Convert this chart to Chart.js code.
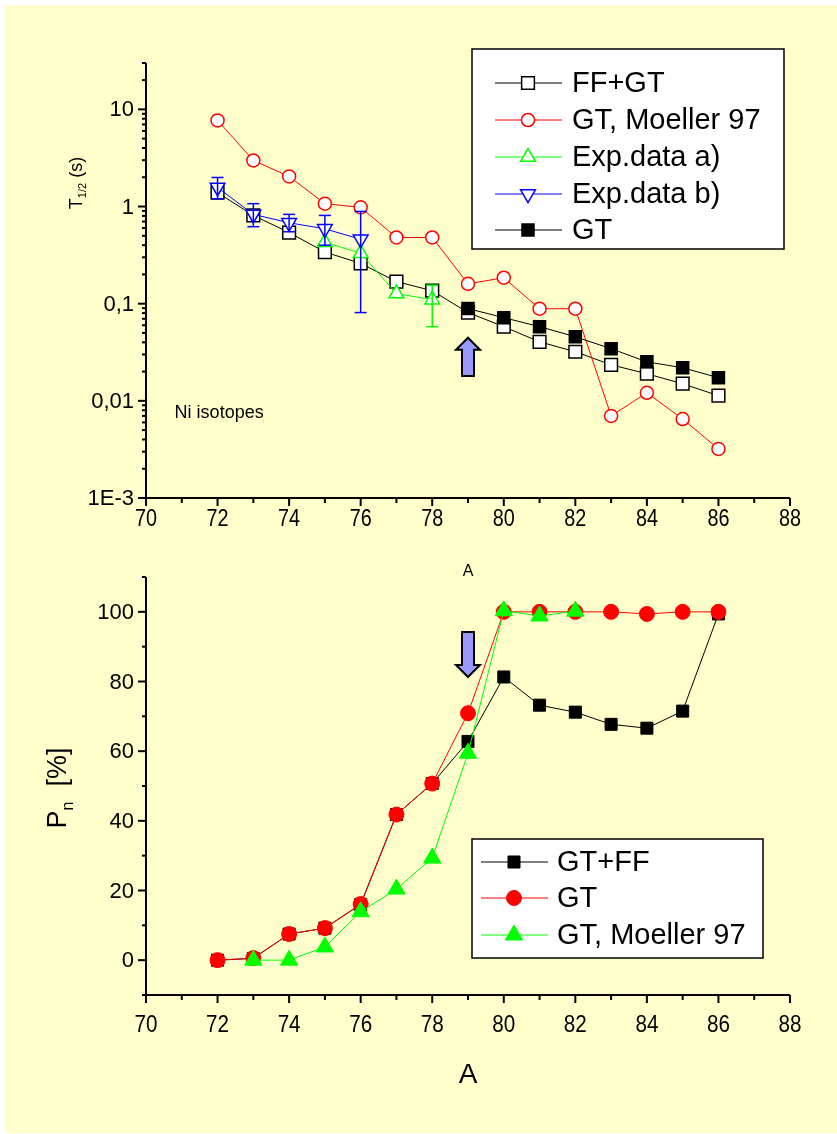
<!DOCTYPE html>
<html><head><meta charset="utf-8">
<script src="https://cdn.jsdelivr.net/npm/chart.js@4.4.1/dist/chart.umd.min.js"></script>
<style>
html,body{margin:0;padding:0;background:#fff;}
#bg{position:absolute;left:5px;top:5px;width:832px;height:1128px;background:#FFFFCC;}
#c1{position:absolute;left:0;top:0;}
#c2{position:absolute;left:0;top:560px;}
</style></head><body>
<div id="bg"></div>
<canvas id="c1" width="837" height="580"></canvas>
<canvas id="c2" width="837" height="574"></canvas>
<script>
// ---------- DATA ----------
const A_ALL = [72,73,74,75,76,77,78,79,80,81,82,83,84,85,86];
// Top panel: half-lives T1/2 (s)
const T_FFGT      = [1.39,0.81,0.54,0.34,0.26,0.169,0.136,0.081,0.058,0.0405,0.032,0.0235,0.019,0.015,0.0113];
const T_MOELLER   = [7.7,2.98,2.04,1.07,0.98,0.48,0.48,0.16,0.185,0.0887,0.0887,0.0070,0.0121,0.0065,0.0032];
const A_EXPA      = [75,76,77,78];
const T_EXPA      = [0.43,0.33,0.127,0.11];
const T_EXPA_LOW  = [null,null,null,0.058];
const T_EXPA_HIGH = [null,null,null,0.155];
const A_EXPB      = [72,73,74,75,76];
const T_EXPB      = [1.57,0.83,0.68,0.59,0.46];
const T_EXPB_LOW  = [1.2,0.62,0.55,0.40,0.081];
const T_EXPB_HIGH = [1.99,1.07,0.83,0.81,0.89];
const A_GT        = [79,80,81,82,83,84,85,86];
const T_GT        = [0.089,0.0718,0.058,0.0457,0.0344,0.0252,0.0219,0.0173];
// Bottom panel: Pn (%)
const PN_GTFF     = [0,0.5,7.5,9.2,16,41.8,50.7,62.8,81.3,73.2,71.2,67.7,66.6,71.5,99.4];
const PN_GT       = [0,0.6,7.5,9.2,16.1,41.8,50.7,70.9,100,100,100,100,99.4,100,100];
const A_PNMOELLER = [73,74,75,76,77,78,79,80,81,82];
const PN_MOELLER  = [0,0,3.8,13.9,20.4,29.3,59.4,100.3,98.8,100.2];
// Ticks
const X_TICKS = [70,72,74,76,78,80,82,84,86,88];
const X_MINOR = [71,73,75,77,79,81,83,85,87];
const LOG_TICKS = [0.001,0.01,0.1,1,10];
const LOG_TICK_LABELS = ['1E-3','0,01','0,1','1','10'];
const PN_TICKS = [0,20,40,60,80,100];
const PN_MINOR = [-10,10,30,50,70,90,110];
// Annotations (data coordinates)
const ARROW_TOP = {a:79, from:0.018, to:0.0446};
const ARROW_BOT = {a:79, from:94.2, to:81.3};
const NOTE_TOP = {a:70.8, v:0.0075, text:'Ni isotopes'};

const FONT = '"Liberation Sans", Arial, sans-serif';
const pts = (xs, ys) => xs.map((x,i)=>({x:x, y:ys[i]}));

function line(ctx,x1,y1,x2,y2){ctx.beginPath();ctx.moveTo(x1,y1);ctx.lineTo(x2,y2);ctx.stroke();}

function drawAxes(chart, o){
  const ctx=chart.ctx, xs=chart.scales.x, ys=chart.scales.y, ca=chart.chartArea;
  ctx.save();
  ctx.strokeStyle='#000'; ctx.lineWidth=2; ctx.fillStyle='#000';
  line(ctx, ca.left, ca.top, ca.left, ca.bottom);
  line(ctx, ca.left-1, ca.bottom, ca.right, ca.bottom);
  X_TICKS.forEach(v=>{const p=xs.getPixelForValue(v); line(ctx,p,ca.bottom,p,ca.bottom+8);});
  X_MINOR.forEach(v=>{const p=xs.getPixelForValue(v); line(ctx,p,ca.bottom,p,ca.bottom+5);});
  o.yMajor.forEach(v=>{const p=ys.getPixelForValue(v); line(ctx,ca.left-8,p,ca.left,p);});
  o.yMinor.forEach(v=>{const p=ys.getPixelForValue(v); line(ctx,ca.left-4,p,ca.left,p);});
  // x tick labels (slightly condensed, as in the original)
  ctx.font = o.xFont+'px '+FONT; ctx.textAlign='center'; ctx.textBaseline='middle';
  X_TICKS.forEach(v=>{
    const px = xs.getPixelForValue(v);
    ctx.save(); ctx.translate(px, ca.bottom+o.xLabOff); ctx.scale(0.86,1);
    ctx.fillText(String(v), 0, 0); ctx.restore();
  });
  ctx.font = o.yFont+'px '+FONT; ctx.textAlign='right';
  o.yMajor.forEach((v,i)=>{ctx.fillText(o.yLabels[i], ca.left-12, ys.getPixelForValue(v)+1);});
  // x title
  ctx.font = o.xTitleFont+'px '+FONT; ctx.textAlign='center';
  ctx.fillText('A', (xs.getPixelForValue(70)+xs.getPixelForValue(88))/2, ca.bottom+o.xTitleOff);
  ctx.restore();
}

function drawArrow(ctx, x, yTail, yTip){
  const dir = yTip < yTail ? -1 : 1; // -1 = up
  const sw=6, hw=12, hl=12;
  const yNeck = yTip - dir*hl;
  ctx.save();
  ctx.beginPath();
  ctx.moveTo(x, yTip);
  ctx.lineTo(x+hw, yNeck);
  ctx.lineTo(x+sw, yNeck);
  ctx.lineTo(x+sw, yTail);
  ctx.lineTo(x-sw, yTail);
  ctx.lineTo(x-sw, yNeck);
  ctx.lineTo(x-hw, yNeck);
  ctx.closePath();
  ctx.fillStyle='#9999FF'; ctx.fill();
  ctx.strokeStyle='#000'; ctx.lineWidth=2; ctx.lineJoin='miter'; ctx.stroke();
  ctx.restore();
}

function drawLegend(chart, L){
  const ctx=chart.ctx;
  ctx.save();
  ctx.fillStyle='#fff'; ctx.fillRect(L.x, L.y, L.w, L.h);
  ctx.strokeStyle='#000'; ctx.lineWidth=1.5; ctx.strokeRect(L.x, L.y, L.w, L.h);
  L.order.forEach((di, row)=>{
    const ds = chart.data.datasets[di];
    const y = L.rows[row];
    ctx.strokeStyle = ds.borderColor; ctx.lineWidth = 1;
    line(ctx, L.lx1, y, L.lx2, y);
    ctx.fillStyle = ds.pointBackgroundColor; ctx.strokeStyle = ds.borderColor;
    ctx.lineWidth = ds.pointBorderWidth;
    Chart.helpers.drawPoint(ctx, {pointStyle: ds.pointStyle, radius: ds.pointRadius, rotation: ds.pointRotation||0, borderWidth: ds.pointBorderWidth}, L.mx, y);
    ctx.fillStyle='#000'; ctx.font = L.font+'px '+FONT; ctx.textAlign='left'; ctx.textBaseline='middle';
    ctx.fillText(ds.label, L.tx, y+1);
  });
  ctx.restore();
}

const errorBarPlugin = {
  id:'errbars',
  afterDatasetsDraw(chart){
    const ctx=chart.ctx, xs=chart.scales.x, ys=chart.scales.y;
    chart.data.datasets.forEach(ds=>{
      if(!ds.errLow) return;
      ctx.save(); ctx.strokeStyle=ds.borderColor; ctx.lineWidth=1.5;
      ds.data.forEach((p,i)=>{
        const lo=ds.errLow[i], hi=ds.errHigh[i];
        if(lo==null) return;
        const x=xs.getPixelForValue(p.x), y1=ys.getPixelForValue(lo), y2=ys.getPixelForValue(hi);
        line(ctx,x,y1,x,y2); line(ctx,x-6,y1,x+6,y1); line(ctx,x-6,y2,x+6,y2);
      });
      ctx.restore();
    });
  }
};

const baseOpts = (padding, yScale) => ({
  responsive:false, animation:false, events:[],
  layout:{padding:padding},
  plugins:{legend:{display:false}, tooltip:{enabled:false}},
  scales:{
    x:{type:'linear', min:70, max:88, display:false},
    y:yScale
  }
});

// ---------- TOP CHART ----------
const topMinor = [];
[0.001,0.01,0.1,1,10].forEach(d=>{for(let m=2;m<=9;m++){ if(d*m<=30.0001) topMinor.push(d*m);} });

new Chart(document.getElementById('c1'), {
  type:'line',
  data:{datasets:[
    {label:'FF+GT', data:pts(A_ALL,T_FFGT), borderColor:'#000', borderWidth:1, pointStyle:'rect', pointRadius:9, pointBorderWidth:1.5, pointBackgroundColor:'#fff', pointBorderColor:'#000', order:5},
    {label:'GT, Moeller 97', data:pts(A_ALL,T_MOELLER), borderColor:'#FF0000', borderWidth:1, pointStyle:'circle', pointRadius:6.5, pointBorderWidth:1.5, pointBackgroundColor:'#fff', pointBorderColor:'#FF0000', order:4},
    {label:'Exp.data a)', data:pts(A_EXPA,T_EXPA), errLow:T_EXPA_LOW, errHigh:T_EXPA_HIGH, borderColor:'#00FF00', borderWidth:1, pointStyle:'triangle', pointRadius:8.5, pointBorderWidth:1.5, pointBackgroundColor:'#fff', pointBorderColor:'#00FF00', order:3},
    {label:'Exp.data b)', data:pts(A_EXPB,T_EXPB), errLow:T_EXPB_LOW, errHigh:T_EXPB_HIGH, borderColor:'#0000FF', borderWidth:1, pointStyle:'triangle', pointRotation:180, pointRadius:8.5, pointBorderWidth:1.5, pointBackgroundColor:'#fff', pointBorderColor:'#0000FF', order:2},
    {label:'GT', data:pts(A_GT,T_GT), borderColor:'#000', borderWidth:1, pointStyle:'rect', pointRadius:8.5, pointBorderWidth:1.5, pointBackgroundColor:'#000', pointBorderColor:'#000', order:1}
  ]},
  options: baseOpts({left:146, top:63, right:47, bottom:82}, {type:'logarithmic', min:0.001, max:30, display:false}),
  plugins:[errorBarPlugin, {
    id:'topDeco',
    afterDraw(chart){
      drawAxes(chart, {yMajor:LOG_TICKS, yMinor:topMinor, yLabels:LOG_TICK_LABELS, xFont:23, yFont:22, xLabOff:22, xTitleFont:16, xTitleOff:74});
      const ctx=chart.ctx, xs=chart.scales.x, ys=chart.scales.y;
      drawArrow(ctx, xs.getPixelForValue(ARROW_TOP.a), ys.getPixelForValue(ARROW_TOP.from), ys.getPixelForValue(ARROW_TOP.to));
      ctx.save(); ctx.fillStyle='#000'; ctx.font='18px '+FONT; ctx.textBaseline='middle'; ctx.textAlign='left';
      ctx.fillText(NOTE_TOP.text, xs.getPixelForValue(NOTE_TOP.a), ys.getPixelForValue(NOTE_TOP.v));
      // y title T1/2 (s)
      ctx.translate(82, 183); ctx.rotate(-Math.PI/2);
      ctx.textBaseline='alphabetic'; ctx.textAlign='left';
      ctx.font='18px '+FONT; const wT=ctx.measureText('T').width;
      ctx.font='11px '+FONT; const wS=ctx.measureText('1/2').width;
      ctx.font='18px '+FONT; const wP=ctx.measureText(' (s)').width;
      let x0=-(wT+wS+wP)/2;
      ctx.fillText('T', x0, 0); x0+=wT;
      ctx.font='11px '+FONT; ctx.fillText('1/2', x0, 4); x0+=wS;
      ctx.font='18px '+FONT; ctx.fillText(' (s)', x0, 0);
      ctx.restore();
      drawLegend(chart, {x:472, y:49, w:312, h:200, rows:[83,120,157,194,230], lx1:495, lx2:562, mx:528, tx:572, font:29, order:[0,1,2,3,4]});
    }
  }]
});

// ---------- BOTTOM CHART ----------
new Chart(document.getElementById('c2'), {
  type:'line',
  data:{datasets:[
    {label:'GT+FF', data:pts(A_ALL,PN_GTFF), borderColor:'#000', borderWidth:1, pointStyle:'rect', pointRadius:8.5, pointBorderWidth:1, pointBackgroundColor:'#000', pointBorderColor:'#000', order:3},
    {label:'GT', data:pts(A_ALL,PN_GT), borderColor:'#FF0000', borderWidth:1, pointStyle:'circle', pointRadius:7.5, pointBorderWidth:1, pointBackgroundColor:'#FF0000', pointBorderColor:'#FF0000', order:2},
    {label:'GT, Moeller 97', data:pts(A_PNMOELLER,PN_MOELLER), borderColor:'#00FF00', borderWidth:1, pointStyle:'triangle', pointRadius:10, pointBorderWidth:1, pointBackgroundColor:'#00FF00', pointBorderColor:'#00FF00', order:1}
  ]},
  options: baseOpts({left:146, top:17, right:47, bottom:139}, {type:'linear', min:-10, max:110, display:false}),
  plugins:[{
    id:'botDeco',
    afterDraw(chart){
      drawAxes(chart, {yMajor:PN_TICKS, yMinor:PN_MINOR, yLabels:PN_TICKS.map(String), xFont:24, yFont:22, xLabOff:30, xTitleFont:28, xTitleOff:80});
      const ctx=chart.ctx, xs=chart.scales.x, ys=chart.scales.y;
      drawArrow(ctx, xs.getPixelForValue(ARROW_BOT.a), ys.getPixelForValue(ARROW_BOT.from), ys.getPixelForValue(ARROW_BOT.to));
      ctx.save(); ctx.fillStyle='#000';
      ctx.translate(66, 228); ctx.rotate(-Math.PI/2);
      ctx.textBaseline='alphabetic'; ctx.textAlign='left';
      ctx.font='27px '+FONT; const wP=ctx.measureText('P').width;
      ctx.font='16px '+FONT; const wn=ctx.measureText('n').width;
      ctx.font='27px '+FONT; const wR=ctx.measureText('  [%]').width;
      let x0=-(wP+wn+wR)/2;
      ctx.fillText('P', x0, 0); x0+=wP;
      ctx.font='16px '+FONT; ctx.fillText('n', x0, 7); x0+=wn;
      ctx.font='27px '+FONT; ctx.fillText('  [%]', x0, 0);
      ctx.restore();
      drawLegend(chart, {x:472, y:279, w:291, h:119, rows:[302,338,375], lx1:481, lx2:548, mx:514, tx:557, font:29, order:[0,1,2]});
    }
  }]
});
</script>
</body></html>
